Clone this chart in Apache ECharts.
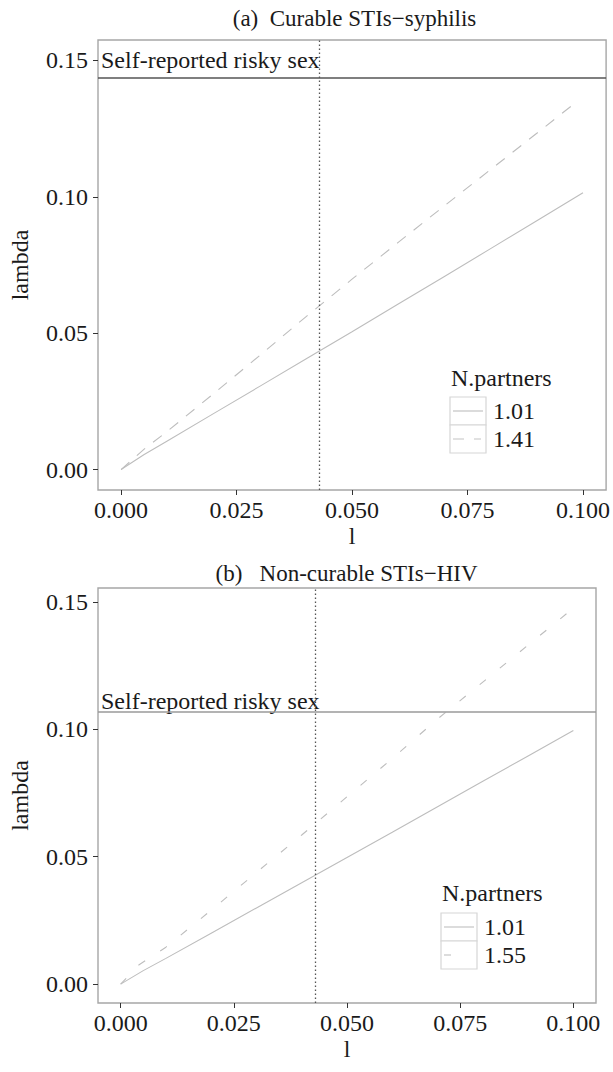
<!DOCTYPE html>
<html><head><meta charset="utf-8">
<script src="https://cdn.jsdelivr.net/npm/echarts@6/dist/echarts.min.js"></script>
<style>html,body{margin:0;padding:0;background:#fff}#c{width:613px;height:1072px}</style>
</head><body><div id="c"></div>
<script>
// ---- data ----
const xTicks = [0, 0.025, 0.05, 0.075, 0.1];
const yTicks = [0, 0.05, 0.10, 0.15];
const panelTitles = ['(a)  Curable STIs\u2212syphilis', '(b)   Non-curable STIs\u2212HIV'];
const xName = 'l';
const yName = 'lambda';
const legendTitle = 'N.partners';
const annotationText = 'Self-reported risky sex';

// panel (a) syphilis
const aSolidL      = [0, 0.005, 0.01, 0.02, 0.03, 0.04, 0.05, 0.06, 0.07, 0.08, 0.09, 0.10];
const aSolidLambda = [0, 0.0055, 0.0105, 0.0205, 0.0305, 0.0405, 0.0505, 0.0607, 0.0708, 0.0810, 0.0912, 0.1015];
const aDashL       = [0, 0.005, 0.01, 0.02, 0.03, 0.04, 0.05, 0.06, 0.07, 0.08, 0.09, 0.098];
const aDashLambda  = [0, 0.0075, 0.0140, 0.0278, 0.0418, 0.0560, 0.0698, 0.0833, 0.0967, 0.1100, 0.1233, 0.1340];
const aPartners = ['1.01', '1.41'];
const aRiskySex = 0.1435;
const aCutoff = 0.043;
const aLabelY = 0.15;

// panel (b) HIV
const bSolidL      = [0, 0.005, 0.01, 0.02, 0.03, 0.04, 0.05, 0.06, 0.07, 0.08, 0.09, 0.10];
const bSolidLambda = [0, 0.0053, 0.0101, 0.0200, 0.0299, 0.0398, 0.0497, 0.0596, 0.0696, 0.0796, 0.0895, 0.0995];
const bDashL       = [0, 0.004, 0.01, 0.02, 0.03, 0.04, 0.05, 0.06, 0.07, 0.08, 0.09, 0.10];
const bDashLambda  = [0, 0.0075, 0.0145, 0.0290, 0.0438, 0.0585, 0.0735, 0.0885, 0.1040, 0.1185, 0.1330, 0.1475];
const bPartners = ['1.01', '1.55'];
const bRiskySex = 0.1067;
const bCutoff = 0.043;
const bLabelY = 0.111;

// ---- styles ----
const FF = 'Liberation Serif, Times New Roman, serif';
const TXT = '#1a1a1a';
const LINE = '#bdbdbd';
const dashA = [11, 10];
const dashB = [8, 18];
const zip = (a, b) => a.map((v, i) => [v, b[i]]);

const panels = [
  {grid: {left: 98, top: 40, width: 513, height: 450}, ymin: -0.0075, ymax: 0.1575,
   solid: zip(aSolidL, aSolidLambda), dash: zip(aDashL, aDashLambda), dashType: dashA,
   names: aPartners, hline: aRiskySex, vline: aCutoff, labelY: aLabelY, hcol: '#555', title: panelTitles[0]},
  {grid: {left: 97, top: 588, width: 499, height: 415}, ymin: -0.0074, ymax: 0.1554,
   solid: zip(bSolidL, bSolidLambda), dash: zip(bDashL, bDashLambda), dashType: dashB,
   names: bPartners, hline: bRiskySex, vline: bCutoff, labelY: bLabelY, hcol: '#9a9a9a', title: panelTitles[1]}
];

const grids = [], xAxes = [], yAxes = [], series = [], graphics = [];
panels.forEach((p, i) => {
  grids.push(Object.assign({show: true, borderColor: '#a6a6a6', borderWidth: 1.4, backgroundColor: '#fff'}, p.grid));
  xAxes.push({
    type: 'value', gridIndex: i, min: -0.005, max: 0.105, position: 'bottom',
    axisLine: {show: false, onZero: false}, splitLine: {show: false},
    axisTick: {show: true, customValues: xTicks, length: 5, lineStyle: {color: '#333', width: 1}},
    axisLabel: {customValues: xTicks, formatter: v => v.toFixed(3), margin: 8, fontSize: 24, fontFamily: FF, color: TXT},
    name: xName, nameLocation: 'middle', nameGap: 34,
    nameTextStyle: {fontSize: 24, fontFamily: FF, color: TXT}
  });
  yAxes.push({
    type: 'value', gridIndex: i, min: p.ymin, max: p.ymax, position: 'left',
    axisLine: {show: false, onZero: false}, splitLine: {show: false},
    axisTick: {show: true, customValues: yTicks, length: 5, lineStyle: {color: '#333', width: 1}},
    axisLabel: {customValues: yTicks, formatter: v => v.toFixed(2), margin: 10, fontSize: 24, fontFamily: FF, color: TXT},
    name: yName, nameLocation: 'middle', nameGap: 66, nameRotate: 90,
    nameTextStyle: {fontSize: 24, fontFamily: FF, color: TXT}
  });
  series.push({
    type: 'line', name: p.names[0], xAxisIndex: i, yAxisIndex: i, data: p.solid,
    showSymbol: false, symbol: 'none', lineStyle: {color: LINE, width: 1.1}, z: 3,
    markLine: {
      symbol: 'none', silent: true, precision: 6, label: {show: false}, animation: false,
      data: [
        {xAxis: p.vline, lineStyle: {color: '#555', width: 1.3, type: [1.5, 2.5]}},
        {yAxis: p.hline, lineStyle: {color: p.hcol, width: 1.5, type: 'solid'}}
      ]
    }
  });
  series.push({
    type: 'line', name: p.names[1], xAxisIndex: i, yAxisIndex: i, data: p.dash,
    showSymbol: false, symbol: 'none', lineStyle: {color: LINE, width: 1.1, type: p.dashType}, z: 3
  });
  series.push({
    type: 'scatter', xAxisIndex: i, yAxisIndex: i, data: [[-0.005, p.labelY]],
    symbolSize: 0, clip: false, silent: true, itemStyle: {opacity: 1},
    label: {show: true, position: 'right', distance: 3, formatter: annotationText, opacity: 1,
            fontSize: 24, fontFamily: FF, color: TXT}
  });
  // panel title
  graphics.push({type: 'text', x: p.grid.left + p.grid.width / 2, y: i === 0 ? 18 : 573,
    style: {text: p.title, fontSize: 23, fontFamily: FF, fill: TXT, textAlign: 'center', textVerticalAlign: 'middle'}});
});

// legends
function legend(x, yTitle, yBox, names, dashType, keyDash) {
  graphics.push({type: 'text', x: x + 1, y: yTitle,
    style: {text: legendTitle, fontSize: 24, fontFamily: FF, fill: TXT, textVerticalAlign: 'middle'}});
  names.forEach((n, k) => {
    const y0 = yBox + k * 28;
    graphics.push({type: 'rect', shape: {x: x, y: y0, width: 36, height: 28},
      style: {fill: '#fff', stroke: '#d6d6d6', lineWidth: 1.2}});
    graphics.push({type: 'line', shape: {x1: x + 3, y1: y0 + 14, x2: k === 0 ? x + 33 : x + keyDash, y2: y0 + 14},
      style: {stroke: '#c4c4c4', lineWidth: 1.2, lineDash: k === 0 ? null : (keyDash < 30 ? null : dashType)}});
    graphics.push({type: 'text', x: x + 43, y: y0 + 14,
      style: {text: n, fontSize: 24, fontFamily: FF, fill: TXT, textVerticalAlign: 'middle'}});
  });
}
legend(450, 378, 397, aPartners, dashA, 31);
legend(441, 893, 913, bPartners, dashB, 10);

const chart = echarts.init(document.getElementById('c'), null, {renderer: 'svg'});
chart.setOption({
  animation: false, backgroundColor: '#fff',
  grid: grids, xAxis: xAxes, yAxis: yAxes, series: series, graphic: graphics
});
</script></body></html>
